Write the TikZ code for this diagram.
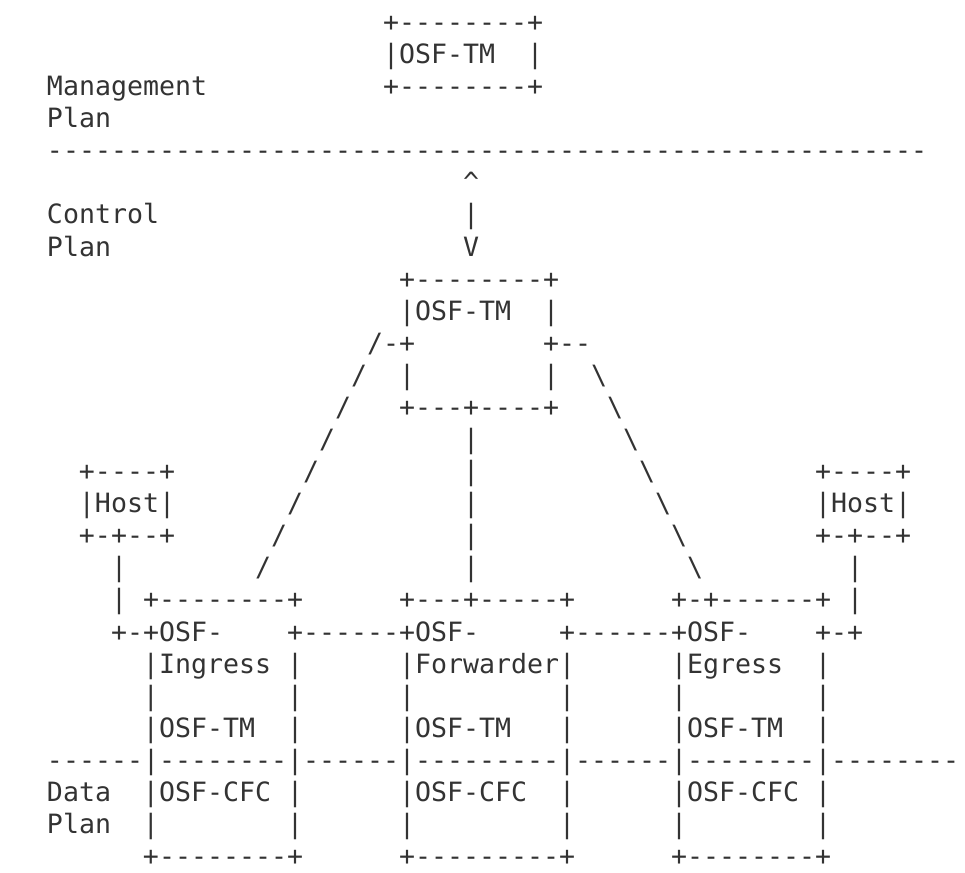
\documentclass[tikz,border=0pt]{standalone}
\usepackage{fontspec}
\setmonofont{DejaVu Sans Mono}
\definecolor{Ink}{HTML}{333333}

\begin{document}
\begin{tikzpicture}[x=8pt,y=-16.04pt,
  ascii/.style={anchor=base west,inner sep=0pt,outer sep=0pt,text=Ink,
    font=\ttfamily\fontsize{13.29pt}{16pt}\selectfont}]
\useasboundingbox (-2.9375,0.018) rectangle (57.375,27.23);
% management plane
\node[ascii](mgtmtop) at (21,1){+--------+};
\node[ascii](mgtmmid) at (21,2){|OSF-TM~~|};
\node[ascii](mgtmbot) at (21,3){+--------+};
\node[ascii](mglabel) at (0,3){Management};
\node[ascii](mglabelb) at (0,4){Plan};
\node[ascii](mgline) at (0,5){-------------------------------------------------------};
% control plane
\node[ascii](uparrow) at (26,6){\textasciicircum};
\node[ascii](ctlabel) at (0,7){Control};
\node[ascii](updown) at (26,7){|};
\node[ascii](ctlabelb) at (0,8){Plan};
\node[ascii](downarrow) at (26,8){V};
\node[ascii](cttmtop) at (22,9){+--------+};
\node[ascii](cttmmid) at (22,10){|OSF-TM~~|};
\node[ascii](cttmlegs) at (20,11){/-+~~~~~~~~+--};
\node[ascii](cttmlegsb) at (19,12){/~~|~~~~~~~~|~~\textbackslash};
\node[ascii](cttmbot) at (18,13){/~~~+---+----+~~~\textbackslash};
\node[ascii](fanA) at (17,14){/~~~~~~~~|~~~~~~~~~\textbackslash};
\node[ascii](hostltop) at (2,15){+----+};
\node[ascii](fanB) at (16,15){/~~~~~~~~~|~~~~~~~~~~\textbackslash};
\node[ascii](hostrtop) at (48,15){+----+};
\node[ascii](hostlmid) at (2,16){|Host|};
\node[ascii](fanC) at (15,16){/~~~~~~~~~~|~~~~~~~~~~~\textbackslash};
\node[ascii](hostrmid) at (48,16){|Host|};
\node[ascii](hostlbot) at (2,17){+-+--+};
\node[ascii](fanD) at (14,17){/~~~~~~~~~~~|~~~~~~~~~~~~\textbackslash};
\node[ascii](hostrbot) at (48,17){+-+--+};
\node[ascii](hostllink) at (4,18){|};
\node[ascii](fanE) at (13,18){/~~~~~~~~~~~~|~~~~~~~~~~~~~\textbackslash};
\node[ascii](hostrlink) at (50,18){|};
% data plane nodes
\node[ascii](nodestop) at (4,19){|~+--------+~~~~~~+---+-----+~~~~~~+-+------+~|};
\node[ascii](nodeslink) at (4,20){+-+OSF-~~~~+------+OSF-~~~~~+------+OSF-~~~~+-+};
\node[ascii](nodesname) at (6,21){|Ingress~|~~~~~~|Forwarder|~~~~~~|Egress~~|};
\node[ascii](nodesgap) at (6,22){|~~~~~~~~|~~~~~~|~~~~~~~~~|~~~~~~|~~~~~~~~|};
\node[ascii](nodestm) at (6,23){|OSF-TM~~|~~~~~~|OSF-TM~~~|~~~~~~|OSF-TM~~|};
\node[ascii](dtline) at (0,24){------|--------|------|---------|------|--------|--------};
\node[ascii](dtlabel) at (0,25){Data};
\node[ascii](nodescfc) at (6,25){|OSF-CFC~|~~~~~~|OSF-CFC~~|~~~~~~|OSF-CFC~|};
\node[ascii](dtlabelb) at (0,26){Plan};
\node[ascii](nodesgapb) at (6,26){|~~~~~~~~|~~~~~~|~~~~~~~~~|~~~~~~|~~~~~~~~|};
\node[ascii](nodesbot) at (6,27){+--------+~~~~~~+---------+~~~~~~+--------+};
\end{tikzpicture}
\end{document}
